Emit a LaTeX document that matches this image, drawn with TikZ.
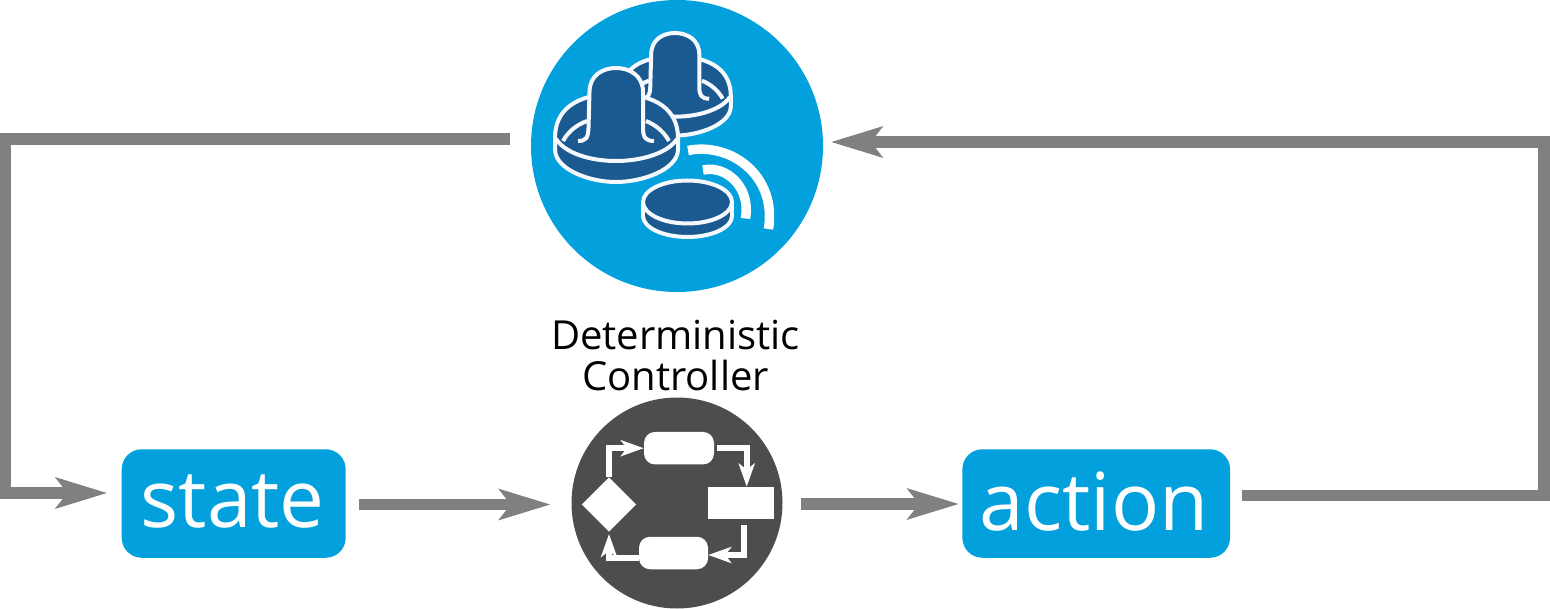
\documentclass[tikz,border=0pt]{standalone}
\usepackage{fontspec}
\setmainfont{Open Sans}
\usetikzlibrary{arrows.meta,shapes.geometric}

\tikzset{
    boxlabel/.style={fill=skyblue, text=white, rounded corners=20pt, minimum height=108.5pt, inner sep=0pt, text depth=5pt, font=\fontsize{80}{80}\selectfont},
    flowline/.style={draw=linegray, line width=11.5pt},
    flowtip/.style={flowline, -{Stealth[length=51pt,width=30pt,inset=11pt]}},
    iconline/.style={draw=iconwhite, line width=4pt, fill=navyblue, line join=round},
    iconedge/.style={draw=iconwhite, line width=4pt, line join=round},
    waveline/.style={draw=white, line width=9.5pt},
    flowbox/.style={fill=white, inner sep=0pt, minimum height=32.5pt},
    smalltip/.style={draw=white, line width=6pt, -{Stealth[length=23pt,width=16pt,inset=6pt]}},
    mallet/.pic={
        \path[iconline] (-61,0) .. controls (-61,-27) and (-42,-44) .. (0,-44) .. controls (42,-44) and (62,-27) .. (62,0) -- (62,12) .. controls (61,32) and (26,44) .. (0,44) .. controls (-26,44) and (-60,32) .. (-61,12) -- cycle;
        \draw[iconedge] (-60,1) .. controls (-51,15) and (-26,23) .. (0,23) .. controls (26,23) and (52,15) .. (61,1);
        \draw[iconedge] (-53,3) .. controls (-48,-6) and (-40,-13) .. (-29,-17);
        \draw[iconedge] (53,3) .. controls (48,-6) and (40,-13) .. (30,-17);
        \path[iconline] (-38,3) .. controls (-30,3) and (-28,0) .. (-27.5,-10) -- (-26.5,-46) .. controls (-26.5,-63) and (-13,-70) .. (0,-70) .. controls (13,-70) and (27,-63) .. (27,-46) -- (27,-10) .. controls (27,0) and (30,3) .. (38,3);
    }
}

\begin{document}
\begin{tikzpicture}[x=1pt,y=-1pt]

    % Define colors
    \definecolor{skyblue}{RGB}{2,160,220}
    \definecolor{navyblue}{RGB}{27,90,144}
    \definecolor{darkdisc}{RGB}{77,77,77}
    \definecolor{linegray}{RGB}{128,128,128}
    \definecolor{iconwhite}{RGB}{245,249,253}

    \useasboundingbox (0,0) rectangle (1550,609);

    \node[circle, fill=skyblue, minimum size=292pt, inner sep=0pt] (table) at (677,146) {};
    \node[circle, fill=darkdisc, minimum size=211pt, inner sep=0pt] (controller) at (677,503) {};
    \node[boxlabel, minimum width=224pt] (state) at (233.7,503.5) {state\kern2pt};
    \node[boxlabel, minimum width=267.7pt] (action) at (1096.2,503.5) {action\kern4pt};
    \node[font=\fontsize{40}{41}\selectfont, align=center, inner sep=0pt] (title) at (675.5,355.5) {Deterministic\\Controller};

    % Turn points of the loop
    \coordinate (leftturn) at (5.7,493);
    \coordinate (rightturn) at (1544,142);

    \draw[flowtip] ([shift={(-21pt,7pt)}]table.west) -| (leftturn) -- ([shift={(-14pt,10.5pt)}]state.west);
    \draw[flowtip] ([xshift=13pt,yshift=-1pt]state.east) -- ([xshift=-20.5pt,yshift=-1.5pt]controller.west);
    \draw[flowtip] ([xshift=18.5pt,yshift=-1pt]controller.east) -- ([xshift=-3pt,yshift=-0.5pt]action.west);
    \draw[flowtip] ([shift={(12pt,8pt)}]action.east) -| (rightturn) -- ([shift={(7.5pt,4pt)}]table.east);

    %-------------
    % Table icon
    \pic[scale=0.9] at (675,96) {mallet};
    \pic at (616,138) {mallet};

    \path[iconline] (687.5,216) ellipse [x radius=44.5pt,y radius=21pt];
    \fill[navyblue] (643,202) rectangle (732,216);
    \draw[iconedge] (643,202) -- (643,216) (732,202) -- (732,216);
    \path[iconline] (687.5,202) ellipse [x radius=44.5pt,y radius=21.5pt];

    \draw[waveline] (688,150.5) .. controls (730,142) and (777,175) .. (768.5,229);
    \draw[waveline] (703,170) .. controls (727,165) and (751,188) .. (745.5,218.5);

    %-------------
    % Flowchart icon
    \node[flowbox, rounded corners=11pt, minimum width=70pt] (roundtop) at (679,448.2) {};
    \node[flowbox, minimum width=66pt] (blockright) at (741,503) {};
    \node[flowbox, rounded corners=11pt, minimum width=69pt] (roundbottom) at (673.5,553) {};
    \node[diamond, fill=white, inner sep=0pt, minimum size=54.5pt] (choice) at (609,504.5) {};

    \draw[smalltip] (choice.north) |- (roundtop.west);
    \draw[smalltip] ([xshift=3pt]roundtop.east) -| ([xshift=5.7pt]blockright.north);
    \draw[smalltip] ([xshift=3pt,yshift=-6pt]blockright.south) |- ([yshift=-2pt]roundbottom.east);
    \draw[smalltip] ([yshift=-4.5pt]roundbottom.west) -| ([yshift=-2pt]choice.south);

\end{tikzpicture}
\end{document}
